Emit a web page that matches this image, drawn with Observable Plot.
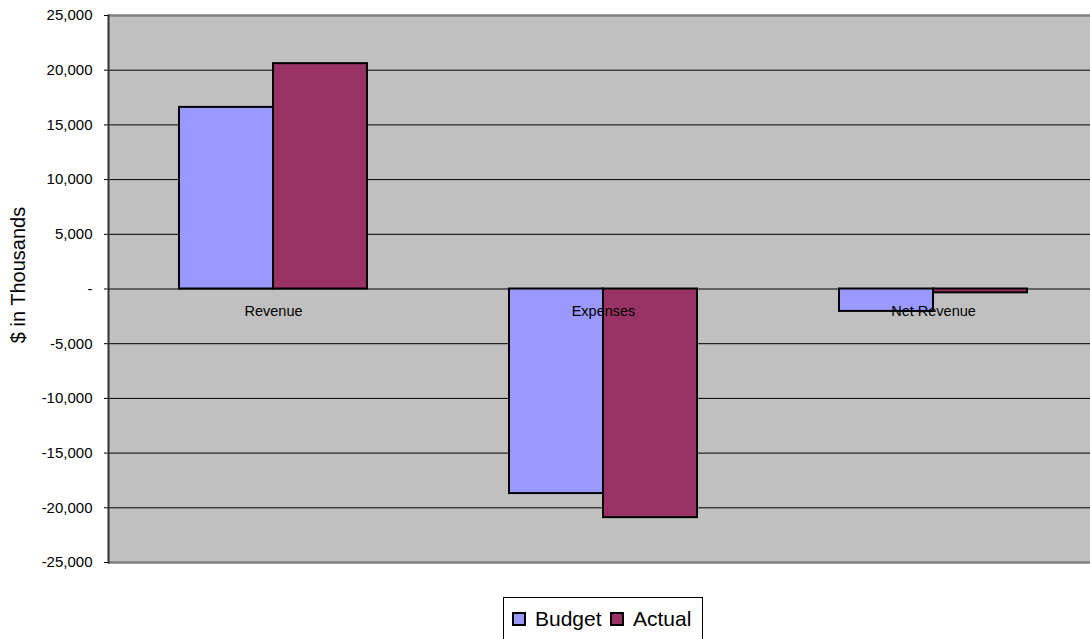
<!DOCTYPE html>
<html><head><meta charset="utf-8">
<script src="https://cdn.jsdelivr.net/npm/d3@7"></script>
<script src="https://cdn.jsdelivr.net/npm/@observablehq/plot@0.6"></script>
<style>
html,body{margin:0;padding:0;overflow:hidden;background:#fff;font-family:Arial,"Liberation Sans",sans-serif;}
#wrap{position:relative;width:1090px;height:639px;overflow:hidden;}
#chart{position:absolute;left:0;top:0;width:1098px;}
#chart svg{max-width:none !important;}
#ytitle{position:absolute;left:18px;top:275px;transform:translate(-50%,-50%) rotate(-90deg);font-size:20px;white-space:nowrap;color:#000;}
#legend{position:absolute;left:503px;top:597px;width:200px;height:60px;border:1px solid #000;box-sizing:border-box;background:#fff;font-size:21px;color:#000;}
#legend .item{position:absolute;top:8px;display:flex;align-items:center;line-height:26px;}
#legend .sw{width:10px;height:10px;border:2px solid #000;margin-right:9px;}
</style>
</head><body>
<div id="wrap">
  <div id="chart"></div>
  <div id="ytitle">$ in Thousands</div>
  <div id="legend"></div>
</div>
<script>
const categories = ["Revenue", "Expenses", "Net Revenue"];
const series = ["Budget", "Actual"];
const budget = [16600, -18700, -2050];
const actual = [20600, -20900, -350];
const yTicks = [-25000, -20000, -15000, -10000, -5000, 0, 5000, 10000, 15000, 20000, 25000];
const colors = ["#9999FF", "#993366"];

const data = categories.flatMap((c, i) => [
  {category: c, series: series[0], value: budget[i]},
  {category: c, series: series[1], value: actual[i]}
]);

const fmt = d => d === 0 ? "-" : (d < 0 ? "-" : "") + d3.format(",")(Math.abs(d));

const chart = Plot.plot({
  width: 1098, height: 590,
  marginLeft: 108, marginRight: 0, marginTop: 15, marginBottom: 28,
  style: {fontFamily: "Arial, 'Liberation Sans', sans-serif", fontSize: "15px", background: "transparent", color: "#000", maxWidth: "none"},
  fx: {domain: categories, padding: 0, axis: null},
  x: {domain: series, paddingInner: 0, paddingOuter: 0.755, axis: null},
  y: {domain: [yTicks[0], yTicks[yTicks.length - 1]], ticks: yTicks, tickFormat: fmt, tickSize: 4, tickPadding: 12, label: null},
  color: {domain: series, range: colors},
  marks: [
    Plot.frame({fill: "#C0C0C0", stroke: "#C0C0C0", strokeWidth: 1}),
    Plot.ruleY(yTicks.filter(t => Math.abs(t) < 25000), {stroke: "#000", strokeWidth: 1}),
    Plot.ruleY([yTicks[0], yTicks[yTicks.length - 1]], {stroke: "#808080", strokeWidth: 2.5}),
    Plot.barY(data, {fx: "category", x: "series", y: "value", fill: "series", stroke: "#000", strokeWidth: 2}),
    Plot.text(categories, {fx: d => d, y: () => 0, text: d => d, dy: 22, fontSize: 14.5, fill: "#000"}),
    Plot.frame({anchor: "left", facetAnchor: "left", stroke: "#333", strokeWidth: 2})
  ]
});
document.getElementById("chart").appendChild(chart);

const legend = document.getElementById("legend");
const lefts = [8, 106];
series.forEach((s, i) => {
  const it = document.createElement("div");
  it.className = "item";
  it.style.left = lefts[i] + "px";
  const sw = document.createElement("span");
  sw.className = "sw";
  sw.style.background = colors[i];
  const tx = document.createElement("span");
  tx.textContent = s;
  it.appendChild(sw); it.appendChild(tx);
  legend.appendChild(it);
});
</script>
</body></html>
